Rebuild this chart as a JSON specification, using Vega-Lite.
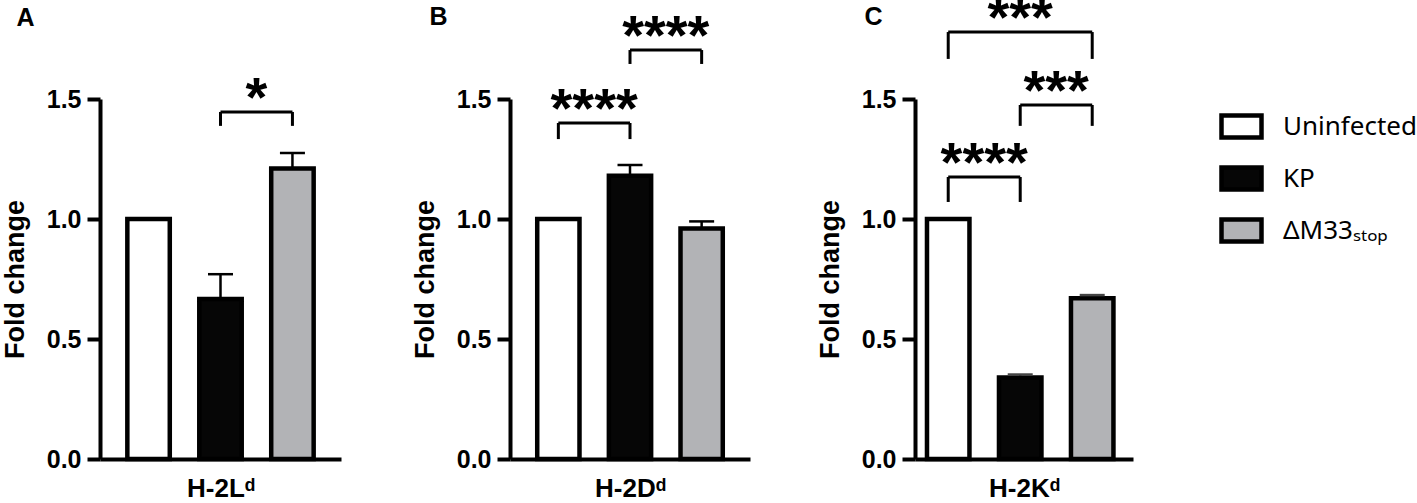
{
  "$schema": "https://vega.github.io/schema/vega-lite/v6.json",
  "padding": {"left": 1, "top": -9, "right": 0, "bottom": 0},
  "datasets": {
    "bars": [
      {"panel": "A", "group": "Uninfected", "value": 1.0, "upper": null},
      {"panel": "A", "group": "KP", "value": 0.667, "upper": 0.77},
      {"panel": "A", "group": "ΔM33", "value": 1.21, "upper": 1.275},
      {"panel": "B", "group": "Uninfected", "value": 1.0, "upper": null},
      {"panel": "B", "group": "KP", "value": 1.18, "upper": 1.225},
      {"panel": "B", "group": "ΔM33", "value": 0.96, "upper": 0.99},
      {"panel": "C", "group": "Uninfected", "value": 1.0, "upper": null},
      {"panel": "C", "group": "KP", "value": 0.34, "upper": 0.352},
      {"panel": "C", "group": "ΔM33", "value": 0.67, "upper": 0.683}
    ],
    "comps": [
      {"panel": "A", "from": "KP", "to": "ΔM33", "top": 1.446, "leg": 1.388, "stars": "*"},
      {"panel": "B", "from": "Uninfected", "to": "KP", "top": 1.4, "leg": 1.333, "stars": "****"},
      {"panel": "B", "from": "KP", "to": "ΔM33", "top": 1.704, "leg": 1.646, "stars": "****"},
      {"panel": "C", "from": "Uninfected", "to": "KP", "top": 1.175, "leg": 1.071, "stars": "****"},
      {"panel": "C", "from": "KP", "to": "ΔM33", "top": 1.475, "leg": 1.388, "stars": "***"},
      {"panel": "C", "from": "Uninfected", "to": "ΔM33", "top": 1.779, "leg": 1.667, "stars": "***"}
    ]
  },
  "hconcat": [
    {
      "spacing": 70,
      "hconcat": [
        {
          "width": 241,
          "height": 360,
          "resolve": {"axis": {"x": "independent"}},
          "layer": [
            {
              "data": {"name": "bars"},
              "transform": [{"filter": "datum.panel == 'A'"}],
              "mark": {"type": "bar", "stroke": "black", "strokeWidth": 4.5},
              "encoding": {
                "x": {"field": "group", "type": "nominal",
                      "scale": {"domain": ["Uninfected", "KP", "ΔM33"], "paddingInner": 0.41, "paddingOuter": 0.38},
                      "axis": {"title": "H-2Lᵈ", "labels": false, "ticks": false}},
                "y": {"field": "value", "type": "quantitative",
                      "scale": {"domain": [0, 1.5], "nice": false},
                      "axis": {"title": "Fold change", "values": [0, 0.5, 1, 1.5], "format": ".1f"}},
                "fill": {"field": "group", "type": "nominal",
                         "scale": {"domain": ["Uninfected", "KP", "ΔM33"], "range": ["#ffffff", "#060606", "#b2b3b6"]},
                         "legend": {"labelExpr": "datum.label == 'ΔM33' ? 'ΔM33ₛₜₒₚ' : datum.label"}}
              }
            },
            {
              "data": {"name": "bars"},
              "transform": [{"filter": "datum.panel == 'A' && datum.upper != null"}],
              "mark": {"type": "rule", "color": "black", "strokeWidth": 2.5},
              "encoding": {
                "x": {"field": "group", "type": "nominal",
                      "axis": {"orient": "top", "title": "A", "domain": false, "labels": false, "ticks": false,
                               "titleAnchor": "start", "titleAlign": "left", "titleBaseline": "alphabetic",
                               "titleX": -84, "titleY": -74, "titleFontSize": 25}},
                "y": {"field": "value", "type": "quantitative"},
                "y2": {"field": "upper"}
              }
            },
            {
              "data": {"name": "bars"},
              "transform": [{"filter": "datum.panel == 'A' && datum.upper != null"}],
              "mark": {"type": "tick", "color": "black", "size": 25, "thickness": 2.5, "opacity": 1},
              "encoding": {
                "x": {"field": "group", "type": "nominal", "axis": null},
                "y": {"field": "upper", "type": "quantitative"}
              }
            },
            {
              "data": {"name": "comps"},
              "transform": [{"filter": "datum.panel == 'A'"}],
              "mark": {"type": "rule", "color": "black", "strokeWidth": 3},
              "encoding": {
                "x": {"field": "from", "type": "nominal", "axis": null},
                "x2": {"field": "to"},
                "y": {"field": "top", "type": "quantitative"}
              }
            },
            {
              "data": {"name": "comps"},
              "transform": [{"filter": "datum.panel == 'A'"}],
              "mark": {"type": "rule", "color": "black", "strokeWidth": 3},
              "encoding": {
                "x": {"field": "from", "type": "nominal", "axis": null},
                "y": {"field": "leg", "type": "quantitative"},
                "y2": {"field": "top"}
              }
            },
            {
              "data": {"name": "comps"},
              "transform": [{"filter": "datum.panel == 'A'"}],
              "mark": {"type": "rule", "color": "black", "strokeWidth": 3},
              "encoding": {
                "x": {"field": "to", "type": "nominal", "axis": null},
                "y": {"field": "leg", "type": "quantitative"},
                "y2": {"field": "top"}
              }
            },
            {
              "data": {"name": "comps"},
              "transform": [{"filter": "datum.panel == 'A'"}],
              "mark": {"type": "text", "fontSize": 56, "fontWeight": "bold", "baseline": "alphabetic", "dy": 4, "color": "black"},
              "encoding": {
                "x": {"field": "from", "type": "nominal", "bandPosition": 1.347, "axis": null},
                "y": {"field": "top", "type": "quantitative"},
                "text": {"field": "stars"}
              }
            }
          ]
        },
        {
          "width": 240,
          "height": 360,
          "resolve": {"axis": {"x": "independent"}},
          "layer": [
            {
              "data": {"name": "bars"},
              "transform": [{"filter": "datum.panel == 'B'"}],
              "mark": {"type": "bar", "stroke": "black", "strokeWidth": 4.5},
              "encoding": {
                "x": {"field": "group", "type": "nominal",
                      "scale": {"domain": ["Uninfected", "KP", "ΔM33"], "paddingInner": 0.41, "paddingOuter": 0.38},
                      "axis": {"title": "H-2Dᵈ", "labels": false, "ticks": false}},
                "y": {"field": "value", "type": "quantitative",
                      "scale": {"domain": [0, 1.5], "nice": false},
                      "axis": {"title": "Fold change", "values": [0, 0.5, 1, 1.5], "format": ".1f"}},
                "fill": {"field": "group", "type": "nominal",
                         "scale": {"domain": ["Uninfected", "KP", "ΔM33"], "range": ["#ffffff", "#060606", "#b2b3b6"]},
                         "legend": {"labelExpr": "datum.label == 'ΔM33' ? 'ΔM33ₛₜₒₚ' : datum.label"}}
              }
            },
            {
              "data": {"name": "bars"},
              "transform": [{"filter": "datum.panel == 'B' && datum.upper != null"}],
              "mark": {"type": "rule", "color": "black", "strokeWidth": 2.5},
              "encoding": {
                "x": {"field": "group", "type": "nominal",
                      "axis": {"orient": "top", "title": "B", "domain": false, "labels": false, "ticks": false,
                               "titleAnchor": "start", "titleAlign": "left", "titleBaseline": "alphabetic",
                               "titleX": -81, "titleY": -75, "titleFontSize": 25}},
                "y": {"field": "value", "type": "quantitative"},
                "y2": {"field": "upper"}
              }
            },
            {
              "data": {"name": "bars"},
              "transform": [{"filter": "datum.panel == 'B' && datum.upper != null"}],
              "mark": {"type": "tick", "color": "black", "size": 25, "thickness": 2.5, "opacity": 1},
              "encoding": {
                "x": {"field": "group", "type": "nominal", "axis": null},
                "y": {"field": "upper", "type": "quantitative"}
              }
            },
            {
              "data": {"name": "comps"},
              "transform": [{"filter": "datum.panel == 'B'"}],
              "mark": {"type": "rule", "color": "black", "strokeWidth": 3},
              "encoding": {
                "x": {"field": "from", "type": "nominal", "axis": null},
                "x2": {"field": "to"},
                "y": {"field": "top", "type": "quantitative"}
              }
            },
            {
              "data": {"name": "comps"},
              "transform": [{"filter": "datum.panel == 'B'"}],
              "mark": {"type": "rule", "color": "black", "strokeWidth": 3},
              "encoding": {
                "x": {"field": "from", "type": "nominal", "axis": null},
                "y": {"field": "leg", "type": "quantitative"},
                "y2": {"field": "top"}
              }
            },
            {
              "data": {"name": "comps"},
              "transform": [{"filter": "datum.panel == 'B'"}],
              "mark": {"type": "rule", "color": "black", "strokeWidth": 3},
              "encoding": {
                "x": {"field": "to", "type": "nominal", "axis": null},
                "y": {"field": "leg", "type": "quantitative"},
                "y2": {"field": "top"}
              }
            },
            {
              "data": {"name": "comps"},
              "transform": [{"filter": "datum.panel == 'B'"}],
              "mark": {"type": "text", "fontSize": 56, "fontWeight": "bold", "baseline": "alphabetic", "dy": 4, "color": "black"},
              "encoding": {
                "x": {"field": "from", "type": "nominal", "bandPosition": 1.347, "axis": null},
                "y": {"field": "top", "type": "quantitative"},
                "text": {"field": "stars"}
              }
            }
          ]
        }
      ]
    },
    {
      "width": 218,
      "height": 360,
      "resolve": {"axis": {"x": "independent"}},
      "layer": [
        {
          "data": {"name": "bars"},
          "transform": [{"filter": "datum.panel == 'C'"}],
          "mark": {"type": "bar", "stroke": "black", "strokeWidth": 4.5},
          "encoding": {
            "x": {"field": "group", "type": "nominal",
                  "scale": {"domain": ["Uninfected", "KP", "ΔM33"], "paddingInner": 0.41, "paddingOuter": 0.219, "align": 0.38},
                  "axis": {"title": "H-2Kᵈ", "labels": false, "ticks": false}},
            "y": {"field": "value", "type": "quantitative",
                  "scale": {"domain": [0, 1.5], "nice": false},
                  "axis": {"title": "Fold change", "values": [0, 0.5, 1, 1.5], "format": ".1f"}},
            "fill": {"field": "group", "type": "nominal",
                     "scale": {"domain": ["Uninfected", "KP", "ΔM33"], "range": ["#ffffff", "#060606", "#b2b3b6"]},
                     "legend": {"labelExpr": "datum.label == 'ΔM33' ? 'ΔM33ₛₜₒₚ' : datum.label"}}
          }
        },
        {
          "data": {"name": "bars"},
          "transform": [{"filter": "datum.panel == 'C' && datum.upper != null"}],
          "mark": {"type": "rule", "color": "black", "strokeWidth": 2.5},
          "encoding": {
            "x": {"field": "group", "type": "nominal",
                  "axis": {"orient": "top", "title": "C", "domain": false, "labels": false, "ticks": false,
                           "titleAnchor": "start", "titleAlign": "left", "titleBaseline": "alphabetic",
                           "titleX": -51, "titleY": -75, "titleFontSize": 25}},
            "y": {"field": "value", "type": "quantitative"},
            "y2": {"field": "upper"}
          }
        },
        {
          "data": {"name": "bars"},
          "transform": [{"filter": "datum.panel == 'C' && datum.upper != null"}],
          "mark": {"type": "tick", "color": "#444444", "size": 25, "thickness": 2.5, "opacity": 1},
          "encoding": {
            "x": {"field": "group", "type": "nominal", "axis": null},
            "y": {"field": "upper", "type": "quantitative"}
          }
        },
        {
          "data": {"name": "comps"},
          "transform": [{"filter": "datum.panel == 'C'"}],
          "mark": {"type": "rule", "color": "black", "strokeWidth": 3},
          "encoding": {
            "x": {"field": "from", "type": "nominal", "axis": null},
            "x2": {"field": "to"},
            "y": {"field": "top", "type": "quantitative"}
          }
        },
        {
          "data": {"name": "comps"},
          "transform": [{"filter": "datum.panel == 'C'"}],
          "mark": {"type": "rule", "color": "black", "strokeWidth": 3},
          "encoding": {
            "x": {"field": "from", "type": "nominal", "axis": null},
            "y": {"field": "leg", "type": "quantitative"},
            "y2": {"field": "top"}
          }
        },
        {
          "data": {"name": "comps"},
          "transform": [{"filter": "datum.panel == 'C'"}],
          "mark": {"type": "rule", "color": "black", "strokeWidth": 3},
          "encoding": {
            "x": {"field": "to", "type": "nominal", "axis": null},
            "y": {"field": "leg", "type": "quantitative"},
            "y2": {"field": "top"}
          }
        },
        {
          "data": {"name": "comps"},
          "transform": [{"filter": "datum.panel == 'C' && !(datum.from == 'Uninfected' && datum.to == 'ΔM33')"}],
          "mark": {"type": "text", "fontSize": 56, "fontWeight": "bold", "baseline": "alphabetic", "dy": 4, "color": "black"},
          "encoding": {
            "x": {"field": "from", "type": "nominal", "bandPosition": 1.347, "axis": null},
            "y": {"field": "top", "type": "quantitative"},
            "text": {"field": "stars"}
          }
        },
        {
          "data": {"name": "comps"},
          "transform": [{"filter": "datum.panel == 'C' && datum.from == 'Uninfected' && datum.to == 'ΔM33'"}],
          "mark": {"type": "text", "fontSize": 56, "fontWeight": "bold", "baseline": "alphabetic", "dy": 4, "color": "black"},
          "encoding": {
            "x": {"field": "from", "type": "nominal", "bandPosition": 2.195, "axis": null},
            "y": {"field": "top", "type": "quantitative"},
            "text": {"field": "stars"}
          }
        }
      ]
    }
  ],
  "spacing": 66,
  "config": {
    "font": "Liberation Sans",
    "view": {"stroke": null},
    "axis": {
      "grid": false,
      "domainColor": "black",
      "domainWidth": 4,
      "tickColor": "black",
      "tickWidth": 4,
      "tickSize": 13,
      "labelColor": "black",
      "labelFont": "Liberation Sans",
      "labelFontSize": 25,
      "labelFontWeight": "bold",
      "labelPadding": 6,
      "titleColor": "black",
      "titleFont": "Liberation Sans",
      "titleFontSize": 27,
      "titleFontWeight": "bold",
      "titlePadding": 17
    },
    "axisX": {"titlePadding": 16, "titleFontSize": 26},
    "legend": {
      "orient": "none",
      "legendX": 1119,
      "legendY": 5,
      "padding": 0,
      "title": null,
      "symbolType": "M-1,-0.55H1V0.55H-1Z",
      "symbolSize": 1600,
      "symbolStrokeColor": "black",
      "symbolStrokeWidth": 4.5,
      "symbolOpacity": 1,
      "labelFont": "Noto Sans",
      "labelFontSize": 26,
      "labelColor": "black",
      "labelOffset": 19,
      "rowPadding": 9,
      "labelLimit": 300
    }
  }
}
